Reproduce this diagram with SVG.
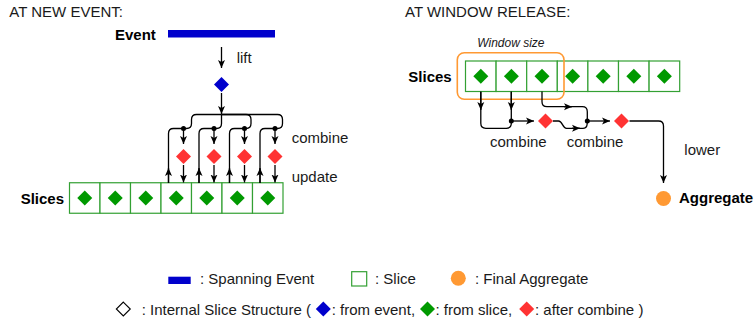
<svg xmlns="http://www.w3.org/2000/svg" width="754" height="324" viewBox="0 0 754 324">
<defs>
<style>
text{font-family:"Liberation Sans",Arial,sans-serif;font-size:15px;fill:#1a1a1a}
.b{font-weight:bold;fill:#000}
.it{font-style:italic;font-size:12px}
.cell{fill:#fff;stroke:#33a033;stroke-width:1.2}
.g{fill:#009900}
.r{fill:#ff3333}
.bl{fill:#0000cc}
.ln{fill:none;stroke:#000;stroke-width:1.3}
.ar{fill:none;stroke:#000;stroke-width:1.3;marker-end:url(#ah)}
.dot{fill:#000}
</style>
<marker id="ah" viewBox="0 0 8 8" markerWidth="8" markerHeight="8" refX="8" refY="4" orient="auto" markerUnits="userSpaceOnUse">
<path d="M0,0.5 L8,4 L0,7.5 L2,4 Z" fill="#000"/>
</marker>
<path id="dm" d="M0,-7.5 L7.5,0 L0,7.5 L-7.5,0 Z"/>
</defs>

<g id="titles">
<text x="9.3" y="17.3">AT NEW EVENT:</text>
<text x="405" y="16.7">AT WINDOW RELEASE:</text>
</g>

<g id="event">
<text class="b" x="115" y="40">Event</text>
<rect x="168" y="30" width="107" height="7.5" class="bl"/>
</g>
<g id="lift-label"><text x="236.7" y="63">lift</text></g>
<g id="event-diamond"><use href="#dm" x="221.5" y="84.5" class="bl"/></g>

<g id="left-slices">
<text class="b" x="20.7" y="204.3">Slices</text>
<rect class="cell" x="69.5" y="182.75" width="30.5" height="30.5"/>
<rect class="cell" x="100" y="182.75" width="30.5" height="30.5"/>
<rect class="cell" x="130.5" y="182.75" width="30.5" height="30.5"/>
<rect class="cell" x="161" y="182.75" width="30.5" height="30.5"/>
<rect class="cell" x="191.5" y="182.75" width="30.5" height="30.5"/>
<rect class="cell" x="222" y="182.75" width="30.5" height="30.5"/>
<rect class="cell" x="252.5" y="182.75" width="30.5" height="30.5"/>
<use href="#dm" x="84.75" y="198" class="g"/>
<use href="#dm" x="115.25" y="198" class="g"/>
<use href="#dm" x="145.75" y="198" class="g"/>
<use href="#dm" x="176.25" y="198" class="g"/>
<use href="#dm" x="206.75" y="198" class="g"/>
<use href="#dm" x="237.25" y="198" class="g"/>
<use href="#dm" x="267.75" y="198" class="g"/>
</g>

<g id="left-combined">
<use href="#dm" x="183.5" y="156.5" class="r"/>
<use href="#dm" x="214" y="156.5" class="r"/>
<use href="#dm" x="244.5" y="156.5" class="r"/>
<use href="#dm" x="275" y="156.5" class="r"/>
</g>
<g id="left-labels">
<text x="291.7" y="143">combine</text>
<text x="291.7" y="182">update</text>
</g>

<g id="right-slices">
<text class="b" x="408.3" y="81.7">Slices</text>
<rect class="cell" x="465.5" y="61" width="30.6" height="30.5"/>
<rect class="cell" x="496.1" y="61" width="30.6" height="30.5"/>
<rect class="cell" x="526.7" y="61" width="30.6" height="30.5"/>
<rect class="cell" x="557.3" y="61" width="30.6" height="30.5"/>
<rect class="cell" x="587.9" y="61" width="30.6" height="30.5"/>
<rect class="cell" x="618.5" y="61" width="30.6" height="30.5"/>
<rect class="cell" x="649.1" y="61" width="30.6" height="30.5"/>
<use href="#dm" x="480.8" y="76.25" class="g"/>
<use href="#dm" x="511.4" y="76.25" class="g"/>
<use href="#dm" x="542" y="76.25" class="g"/>
<use href="#dm" x="572.6" y="76.25" class="g"/>
<use href="#dm" x="603.2" y="76.25" class="g"/>
<use href="#dm" x="633.8" y="76.25" class="g"/>
<use href="#dm" x="664.4" y="76.25" class="g"/>
</g>
<g id="window">
<rect x="457.3" y="52.7" width="106.7" height="46.6" rx="7" fill="none" stroke="#ff9933" stroke-width="1.6"/>
<text class="it" x="477.3" y="46.7">Window size</text>
</g>
<g id="right-combined">
<use href="#dm" x="545.5" y="121" class="r"/>
<use href="#dm" x="621.5" y="121" class="r"/>
<text x="490" y="146.7">combine</text>
<text x="566.7" y="146.7">combine</text>
</g>
<g id="aggregate">
<circle cx="663.5" cy="198.5" r="7.5" fill="#ff9933"/>
<text class="b" x="679" y="203.3">Aggregate</text>
</g>
<g id="lower-label"><text x="684.3" y="155">lower</text></g>

<g id="connectors">
<path class="ar" d="M221.5,47 V68"/>
<path class="ar" d="M221.5,93 V114"/>
<path class="ln" d="M168.5,183 V133.5 Q168.5,128.5 173.5,128.5 H186.5 Q191.5,128.5 191.5,123.5 V119.5 Q191.5,114.5 196.5,114.5 H221.5"/>
<path class="ln" d="M199,183 V133.5 Q199,128.5 204,128.5 H216.5 Q221.5,128.5 221.5,123.5 V114.5"/>
<path class="ln" d="M229.5,183 V133.5 Q229.5,128.5 234.5,128.5 H246 Q251,128.5 251,123.5 V119.5 Q251,114.5 246,114.5 H221.5"/>
<path class="ln" d="M260,183 V133.5 Q260,128.5 265,128.5 H277.5 Q282.5,128.5 282.5,123.5 V119.5 Q282.5,114.5 277.5,114.5 H221.5"/>
<path class="ar" d="M168.5,183 V168"/>
<path class="ar" d="M199,183 V168"/>
<path class="ar" d="M229.5,183 V168"/>
<path class="ar" d="M260,183 V168"/>
<circle class="dot" cx="183.5" cy="128.5" r="2.5"/>
<circle class="dot" cx="214" cy="128.5" r="2.5"/>
<circle class="dot" cx="244.5" cy="128.5" r="2.5"/>
<circle class="dot" cx="275" cy="128.5" r="2.5"/>
<path class="ar" d="M183.5,128.5 V144"/>
<path class="ar" d="M214,128.5 V144"/>
<path class="ar" d="M244.5,128.5 V144"/>
<path class="ar" d="M275,128.5 V144"/>
<path class="ar" d="M183.5,165 V182.5"/>
<path class="ar" d="M214,165 V182.5"/>
<path class="ar" d="M244.5,165 V182.5"/>
<path class="ar" d="M275,165 V182.5"/>

<path class="ln" d="M480.8,91.5 V123.3 Q480.8,128.3 485.8,128.3 H506.3 Q511.3,128.3 511.3,123.3 V121"/>
<path class="ar" d="M480.8,92 V110"/>
<path class="ln" d="M511.3,91.5 V121"/>
<path class="ar" d="M511.3,92 V110"/>
<circle class="dot" cx="511.3" cy="121" r="2.5"/>
<path class="ar" d="M511.3,121 H534"/>
<path class="ln" d="M553,121 H558.5 C562.5,121 562.5,128.3 566.5,128.3 H583 C587.3,128.3 587.3,124.5 587.3,121"/>
<path class="ar" d="M572,128.3 H580"/>
<path class="ln" d="M542,91.5 V101.7 Q542,106.7 547,106.7 H582.3 Q587.3,106.7 587.3,111.7 V121"/>
<path class="ar" d="M564,106.7 H572"/>
<circle class="dot" cx="587.3" cy="121" r="2.5"/>
<path class="ar" d="M587.3,121 H610"/>
<path class="ar" d="M629.5,121 H658.5 Q663.5,121 663.5,126 V183"/>
</g>

<g id="legend">
<rect x="168.3" y="276.7" width="22.4" height="7.3" class="bl"/>
<text x="200" y="284.3">: Spanning Event</text>
<rect class="cell" x="351.7" y="271.7" width="15" height="14.3"/>
<text x="375" y="284.3">: Slice</text>
<circle cx="458.3" cy="278.3" r="7.5" fill="#ff9933"/>
<text x="475" y="284.3">: Final Aggregate</text>
<use href="#dm" x="123.3" y="309" fill="#fff" stroke="#000" stroke-width="1.2" transform="translate(123.3 309) scale(0.93) translate(-123.3 -309)"/>
<text x="141.7" y="315">: Internal Slice Structure (</text>
<use href="#dm" x="323.3" y="309" class="bl"/>
<text x="331.7" y="315">: from event,</text>
<use href="#dm" x="427.5" y="309" class="g"/>
<text x="435.5" y="315">: from slice,</text>
<use href="#dm" x="526.7" y="309" class="r"/>
<text x="535" y="315">: after combine )</text>
</g>
</svg>
